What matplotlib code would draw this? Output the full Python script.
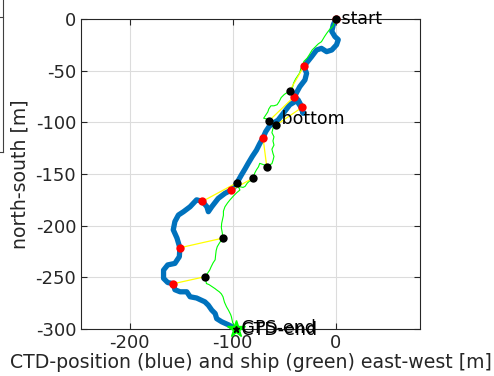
import numpy as np
import matplotlib.pyplot as plt
from matplotlib.lines import Line2D

plt.rcParams['axes.unicode_minus'] = False

# CTD track (east-west, north-south) in metres relative to start
ctd_x = [0, -2.6, -4, -1, 2.3, 0.6, -4, -9, -14, -18.7, -23.6, -28, -31, -28.4, -30, -35, -38,
         -40, -36.5, -32.7, -31.7, -34, -38, -44.7, -51, -56, -61, -64.7, -68, -70.6, -74, -77,
         -81, -85, -88, -91.6, -95.8, -98, -101.3, -107.5, -114, -120.3, -123.6, -125, -129.4,
         -135, -141.3, -147.7, -152.6, -156, -157.6, -154, -151.2, -151.7, -156, -163, -167,
         -167, -163, -157.6, -156, -151, -144.5, -141.3, -135, -127, -123.6, -120.3, -117,
         -115.5, -110.7, -104, -99.4, -96.4]
ctd_y = [0, -5.8, -12, -17, -20, -25, -30, -31.6, -28.4, -30, -36.5, -42, -45.8, -52.6, -59,
         -65.5, -71, -75.2, -78.4, -85.5, -91.3, -85, -79, -83, -91.3, -97.8, -101, -104, -109,
         -114.9, -121, -127, -133, -139.7, -145, -151, -158.4, -162, -165.5, -168.7, -173.6,
         -181.7, -186.5, -181.7, -176.5, -175, -181.7, -186.5, -189.7, -196, -204, -212,
         -221.4, -230, -236.5, -238, -243, -251, -255, -256.2, -262, -264, -264, -268.8, -270,
         -273.7, -277, -281.7, -285, -290, -293, -296, -298.5, -300]

# ship GPS track
ship_x = [0, -1.5, -3, -6, -9, -11, -14, -17, -20, -23, -26, -28, -31, -32, -34, -35, -37, -39,
          -41, -42, -44.7, -47, -50, -53, -55, -57, -60, -63, -65, -66, -68, -70, -66, -64.7,
          -62, -60, -61, -62, -60, -61, -60, -62, -61, -60, -61, -62, -64, -67, -70, -73.8,
          -75, -77, -78.6, -80.3, -81.6, -84, -86, -88, -90, -94.6, -93, -96, -99, -102.6,
          -105, -107.5, -109, -109, -110.7, -111, -110, -110, -109.4, -111, -113, -115, -116,
          -116.5, -117, -119, -121, -122.3, -125, -126.9, -126, -125.5, -123, -120, -117,
          -115.8, -113, -111, -109.4, -108, -106, -104, -102, -101.3, -100, -98, -96.4]
ship_y = [0, -3, -7, -10, -14, -17, -22, -24, -27, -30, -35, -38, -41, -44, -48, -52, -55, -58,
          -62, -66, -69.4, -71, -73, -76, -80, -83, -84, -84, -87, -90, -93, -96, -97, -98.4,
          -100, -102, -106, -110, -114, -118, -122, -126, -130, -133, -137, -140, -141, -142,
          -141, -139.7, -143, -146, -149, -154, -156, -157, -159, -162, -163, -162, -165.5,
          -168, -171, -175, -178, -181.7, -186, -190, -197.8, -202, -207.5, -210, -212, -214,
          -217, -220.4, -224, -228, -233, -236, -240, -243, -247, -249.4, -253, -256, -257,
          -259, -261, -262, -264, -266, -268.8, -274, -278.5, -282, -286, -288, -294, -297,
          -300]

# ship fixes (black) and CTD positions at the same times (red)
fix_ship_x = [0, -44.7, -64.7, -58, -67, -80.3, -95.8, -109.4, -126.9]
fix_ship_y = [0, -69.4, -98.4, -102.6, -143, -154, -158.4, -212, -249.4]
fix_ctd_x = [0, -31, -40.4, -32.7, -70.6, -101.3, -129.4, -151.2, -157.6]
fix_ctd_y = [0, -45.8, -75.2, -85.5, -114.9, -165.5, -176.5, -221.4, -256.2]

end_x, end_y = -96.4, -300

fig = plt.figure(figsize=(4.94, 3.76), dpi=100)
ax = fig.add_axes([81 / 494, 47 / 376, 339 / 494, 310 / 376])

ax.plot(ctd_x, ctd_y, color='#0072BD', lw=3.8, solid_capstyle='round', solid_joinstyle='round', zorder=2)
ax.plot(ship_x, ship_y, color=(0, 1, 0), lw=0.8, zorder=3)
for sx, sy, cx, cy in zip(fix_ship_x, fix_ship_y, fix_ctd_x, fix_ctd_y):
    ax.plot([sx, cx], [sy, cy], color=(1, 1, 0), lw=0.9, zorder=4)
ax.plot(fix_ctd_x, fix_ctd_y, 'o', color='red', ms=6, mec='none', zorder=5, clip_on=False)
ax.plot(fix_ship_x, fix_ship_y, 'o', color='black', ms=6, mec='none', zorder=6, clip_on=False)

# end markers
ax.plot(end_x, end_y, '*', color=(0, 1, 0), ms=13, mec=(0, 1, 0), zorder=7, clip_on=False)
ax.plot(end_x, end_y, '*', color='black', ms=5, zorder=8, clip_on=False)

tk = dict(fontsize=12.5, va='center', ha='left', clip_on=False, zorder=9)
ax.text(fix_ship_x[0], fix_ship_y[0], ' start', **tk)
ax.text(fix_ship_x[3], fix_ship_y[3] + 6, ' bottom', **tk)
ax.text(end_x, end_y + 1, ' GPS-end', **tk)
ax.text(end_x, end_y - 1, ' CTD-end', **tk)

ax.set_xlim(-247, 81.5)
ax.set_ylim(-300, 0)
ax.set_xticks([-200, -100, 0])
ax.set_yticks([0, -50, -100, -150, -200, -250, -300])
ax.grid(True, color='#dcdcdc', lw=0.8)
ax.set_axisbelow(True)
ax.tick_params(direction='in', top=True, right=True, length=4, labelsize=13,
               colors='#262626', labelcolor='#262626')
for s in ax.spines.values():
    s.set_color('#262626')
    s.set_linewidth(0.8)
ax.set_xlabel('CTD-position (blue) and ship (green) east-west [m]', fontsize=13.6, color='#262626', labelpad=1)
ax.set_ylabel('north-south [m]', fontsize=13.6, color='#262626', labelpad=4)

# edge of the neighbouring axes box
fig.add_artist(Line2D([0, 3 / 494], [1 - 17 / 376, 1 - 17 / 376], color='#404040', lw=0.8))
fig.add_artist(Line2D([3 / 494, 3 / 494], [1, 1 - 152 / 376], color='#404040', lw=0.8))
fig.add_artist(Line2D([0, 3 / 494], [1 - 152 / 376, 1 - 152 / 376], color='#404040', lw=0.8))

fig.savefig('out.png', dpi=100)
